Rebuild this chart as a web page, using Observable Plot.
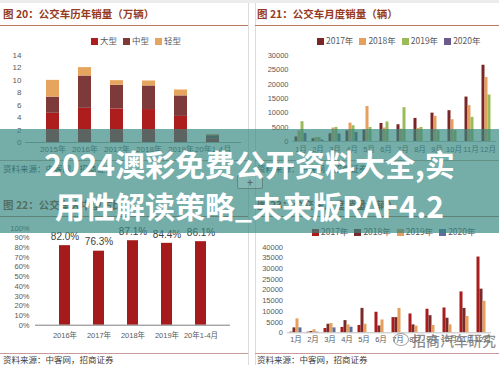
<!DOCTYPE html>
<html><head><meta charset="utf-8">
<script src="https://cdn.jsdelivr.net/npm/d3@7"></script>
<script src="https://cdn.jsdelivr.net/npm/@observablehq/plot@0.6"></script>
<style>
body{margin:0;background:#fff;}
#root{position:relative;width:499px;height:365px;overflow:hidden;background:#fff;font-family:"Noto Sans CJK SC","Liberation Sans",sans-serif;}
.abs{position:absolute;}
.title{position:absolute;font-size:10.5px;font-weight:700;color:#963b22;white-space:nowrap;line-height:14px;}
.src{position:absolute;font-size:8.5px;color:#404040;white-space:nowrap;line-height:12px;}
.hl{position:absolute;height:1px;}
.vl{position:absolute;width:1px;background:#dcdcdc;}
.legend{position:absolute;display:flex;gap:6px;font-size:8.5px;color:#595959;white-space:nowrap;line-height:11px;align-items:center;}
.legend span.sw{display:inline-block;width:7px;height:7px;margin-right:2px;vertical-align:-0.5px;}
.big{position:absolute;left:0;width:499px;text-align:center;color:#fff;font-weight:700;font-size:30px;line-height:36px;white-space:nowrap;font-family:"Noto Sans CJK SC",sans-serif;}
</style>
</head><body><div id="root"></div>
<script>
// ---------- data ----------
// Fig 20: bus sales by year (10k units)
const years20 = ["2015年","2016年","2017年","2018年","2019年","20年1-4月"];
const types20 = ["大型","中型","轻型"];
const large20 = [4.7,5.5,5.4,5.3,4.2,0.5];
const medium20 = [2.6,5.2,3.8,3.8,3.3,0.6];
const light20 = [2.7,1.35,0.75,0.8,0.95,0.2];
const ticks20 = [0,2,4,6,8,10,12,14];
const colors20 = ["#ad1d1d","#7e3939","#e6a55e"];

// Fig 21: monthly bus sales (units)
const months = ["1月","2月","3月","4月","5月","6月","7月","8月","9月","10月","11月","12月"];
const years21 = ["2017年","2018年","2019年","2020年"];
const bus2017 = [1600,1000,2700,3700,4000,6300,5850,8050,9900,10750,15500,26600];
const bus2018 = [3700,1400,4700,6400,12200,4700,4300,4550,8750,7600,12500,22300];
const bus2019 = [6900,1400,4900,5500,4900,6800,11800,4900,3800,3800,8400,16200];
const bus2020 = [2800,500,2600,3200];
const ticks21 = [0,5000,10000,15000,20000,25000,30000];
const colors21 = ["#7a2626","#e4a05c","#9bbb59","#6b5a8c"];

// Fig 22: share
const cats22 = ["2016年","2017年","2018年","2019年","20年1-4月"];
const share22 = [82.0,76.3,87.1,84.4,86.1];
const ticks22 = [0,10,20,30,40,50,60,70,80,90,100];

// Fig 23: monthly sales (units)
const years23 = ["2017年","2018年","2019年","2020年"];
const nev2017 = [300,300,2000,2500,3400,9600,7100,8800,11000,11600,19100,35400];
const nev2018 = [2300,600,4000,5700,11400,3200,7100,3700,8000,6800,11400,20400];
const nev2019 = [6500,1400,4300,3700,4000,6000,11400,3100,3400,3700,7600,14700];
const nev2020 = [2300,300,2300,2600];
const ticks23 = [0,5000,10000,15000,20000,25000,30000,35000,40000];
const colors23 = ["#a81c1c","#7a2a2a","#e4a05c","#5d6f9c"];

const sourceText = "资料来源：中客网，招商证券";

// ---------- helpers ----------
const root = document.getElementById("root");
function div(cls, css, html){const d=document.createElement("div");d.className=cls;Object.assign(d.style,css);if(html!=null)d.innerHTML=html;root.appendChild(d);return d;}
function put(svg,left,top){svg.style.position="absolute";svg.style.left=left+"px";svg.style.top=top+"px";root.appendChild(svg);}
function legend(items,colors,left,top){
  div("legend",{left:left+"px",top:top+"px"}, items.map((t,i)=>`<span><span class="sw" style="background:${colors[i]}"></span>${t}</span>`).join(""));
}
const font = '"Liberation Sans","Noto Sans CJK SC",sans-serif';
const style = fs => ({fontSize:fs,fontFamily:font,color:"#595959",background:"transparent",overflow:"visible"});

// frame
div("hl",{left:"0px",top:"0px",width:"499px",height:"3px",background:"#ececec"});
div("vl",{left:"248px",top:"3px",height:"362px"});
div("vl",{left:"255px",top:"3px",height:"362px"});

// ---------- Fig 20 ----------
div("title",{left:"3px",top:"7px"},"图 20：公交车历年销量（万辆）");
div("hl",{left:"0px",top:"25px",width:"248px",background:"#b97a62"});
legend(types20,colors20,91,35);
const rows20 = years20.flatMap((y,i)=>[
  {year:y,type:types20[0],v:large20[i]},
  {year:y,type:types20[1],v:medium20[i]},
  {year:y,type:types20[2],v:light20[i]}]);
put(Plot.plot({
  width:250,height:115,marginTop:10,marginBottom:18,marginLeft:25,marginRight:9,
  style:style("8px"),
  x:{domain:years20,padding:0.58,label:null,tickSize:0,tickPadding:4},
  y:{domain:[0,14],ticks:ticks20,label:null,tickSize:0,tickPadding:4},
  color:{domain:types20,range:colors20},
  marks:[
    Plot.barY(rows20,{x:"year",y:"v",fill:"type"}),
    Plot.ruleY([0],{stroke:"#a6a6a6"})
  ]
}),0,45);
div("hl",{left:"0px",top:"160px",width:"248px",background:"#c9a49a"});
div("src",{left:"3px",top:"162px"},sourceText);

// ---------- Fig 21 ----------
div("title",{left:"257px",top:"7px"},"图 21：公交车月度销量（辆）");
div("hl",{left:"255px",top:"25px",width:"244px",background:"#b97a62"});
legend(years21,colors21,317,35);
const series21=[bus2017,bus2018,bus2019,bus2020];
const rows21=[];
series21.forEach((s,si)=>s.forEach((v,i)=>rows21.push({month:months[i],year:years21[si],v})));
put(Plot.plot({
  width:249,height:115,marginTop:10,marginBottom:19,marginLeft:41.5,marginRight:3.5,
  style:style("7.5px"),
  fx:{domain:months,padding:0,axis:"bottom",label:null,tickSize:0,tickPadding:5},
  x:{domain:years21,axis:null,paddingInner:0,paddingOuter:0.35},
  y:{domain:[0,30000],ticks:ticks21,tickFormat:"d",label:null,tickSize:0,tickPadding:4},
  color:{domain:years21,range:colors21},
  marks:[
    Plot.barY(rows21,{fx:"month",x:"year",y:"v",fill:"year"}),
    Plot.ruleY([0],{stroke:"#bfbfbf"})
  ]
}),250,45);
div("hl",{left:"255px",top:"160px",width:"244px",background:"#c9a49a"});
div("src",{left:"257px",top:"162px"},sourceText);

// ---------- Fig 22 ----------
div("title",{left:"3px",top:"198px"},"图 22：公交车大中型占比");
div("hl",{left:"0px",top:"216px",width:"248px",background:"#b97a62"});
const rows22 = cats22.map((c,i)=>({c,v:share22[i]}));
put(Plot.plot({
  width:250,height:130,marginTop:12.7,marginBottom:20.3,marginLeft:35,marginRight:20,
  style:style("7.5px"),
  x:{domain:cats22,padding:0.69,label:null,tickSize:0,tickPadding:7},
  y:{domain:[0,100],ticks:ticks22,tickFormat:d=>d+"%",label:null,tickSize:0,tickPadding:6},
  marks:[
    Plot.barY(rows22,{x:"c",y:"v",fill:"#a51a1a"}),
    Plot.text(rows22,{x:"c",y:"v",text:d=>d.v.toFixed(1)+"%",dy:-9,fontSize:10,fill:"#404040"}),
    Plot.ruleY([0],{stroke:"#7f7f7f"})
  ]
}),0,215);
div("hl",{left:"0px",top:"353px",width:"248px",background:"#c99a9a"});
div("src",{left:"3px",top:"353px"},sourceText);

// ---------- Fig 23 ----------
div("title",{left:"257px",top:"198px"},"图 23：公交车月度销量（辆）");
div("hl",{left:"255px",top:"216px",width:"244px",background:"#b97a62"});
legend(years23,colors23,312,226);
const series23=[nev2017,nev2018,nev2019,nev2020];
const rows23=[];
series23.forEach((s,si)=>s.forEach((v,i)=>rows23.push({month:months[i],year:years23[si],v})));
put(Plot.plot({
  width:249,height:110,marginTop:6.7,marginBottom:17.7,marginLeft:36.5,marginRight:7.5,
  style:style("7.5px"),
  fx:{domain:months,padding:0,axis:"bottom",label:null,tickSize:0,tickPadding:4},
  x:{domain:years23,axis:null,paddingInner:0,paddingOuter:0.35},
  y:{domain:[0,40000],ticks:ticks23,tickFormat:"d",label:null,tickSize:0,tickPadding:4.5},
  color:{domain:years23,range:colors23},
  marks:[
    Plot.barY(rows23,{fx:"month",x:"year",y:"v",fill:"year"}),
    Plot.ruleY([0],{stroke:"#bfbfbf"})
  ]
}),250,240);
div("hl",{left:"255px",top:"353px",width:"244px",background:"#c99a9a"});
div("src",{left:"257px",top:"353px"},sourceText);

// watermark
div("abs",{left:"393px",top:"333px",width:"14px",height:"11px",border:"1.5px solid rgba(120,120,120,0.7)",borderRadius:"50%"});
div("abs",{left:"412px",top:"331px",fontSize:"14px",lineHeight:"18px",color:"rgba(105,105,105,0.75)",whiteSpace:"nowrap",fontWeight:"500"},"招商汽车研究");

// ---------- overlay banner ----------
div("",{position:"absolute",left:"0px",top:"129px",width:"499px",height:"104px",background:"rgba(52,134,128,0.68)"});
div("abs",{left:"237px",top:"175px",width:"24px",height:"12px",border:"1px solid rgba(90,120,118,0.8)",borderRadius:"2px",background:"rgba(255,255,255,0.12)",fontSize:"11px",lineHeight:"12px",textAlign:"center",color:"#555"},"+");
div("big",{top:"145px"},"2024澳彩免费公开资料大全,实");
div("big",{top:"187px"},"用性解读策略_未来版RAF4.2");
</script></body></html>
